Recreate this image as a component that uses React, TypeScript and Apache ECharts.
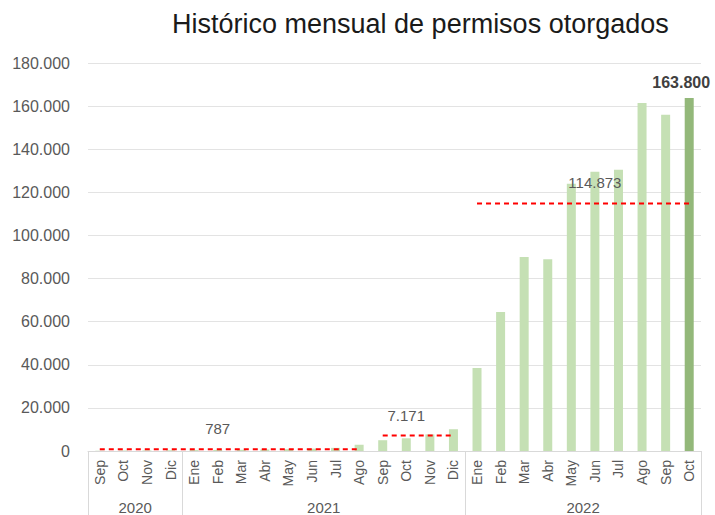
import React, { useEffect, useRef } from "react";
import * as echarts from "echarts";

const years = ["2020", "2021", "2022"];
const months2020 = ["Sep", "Oct", "Nov", "Dic"];
const months2021 = ["Ene", "Feb", "Mar", "Abr", "May", "Jun", "Jul", "Ago", "Sep", "Oct", "Nov", "Dic"];
const months2022 = ["Ene", "Feb", "Mar", "Abr", "May", "Jun", "Jul", "Ago", "Sep", "Oct"];

const values2020 = [120, 210, 260, 330];
const values2021 = [410, 480, 560, 720, 860, 1100, 1450, 2900, 5000, 5900, 7700, 10100];
const values2022 = [38500, 64500, 90000, 89000, 124000, 129500, 130500, 161500, 156000, 163800];

// period averages (red dashed lines)
const avgStarts = [0, 12, 16];
const avgEnds = [11, 15, 25];
const avgValues = [787, 7171, 114873];
const avgLabelAt = [5, 13, 21];

const yTicks = [0, 20000, 40000, 60000, 80000, 100000, 120000, 140000, 160000, 180000];

const fmt = (v: number) => String(Math.round(v)).replace(/\B(?=(\d{3})+(?!\d))/g, ".");

const FONT = "Liberation Sans, Arial, sans-serif";

export default function App() {
  const ref = useRef<HTMLDivElement>(null);
  useEffect(() => {
    if (!ref.current) return;
    const chart = echarts.init(ref.current, null, { renderer: "svg" });
    const monthGroups = [months2020, months2021, months2022];
    const categories: string[] = [];
    monthGroups.forEach((ms, gi) => ms.forEach((m) => categories.push(m + "|" + years[gi])));
    const values = [...values2020, ...values2021, ...values2022];
    const n = values.length;

    const bounds: number[] = [-0.5];
    const centers: number[] = [];
    let acc = 0;
    monthGroups.forEach((ms) => {
      centers.push(acc + (ms.length - 1) / 2);
      acc += ms.length;
      bounds.push(acc - 0.5);
    });

    const barData = values.map((v, i) =>
      i === n - 1
        ? {
            value: v,
            itemStyle: { color: "#93b87a" },
            label: {
              show: true,
              position: "top",
              distance: 7,
              offset: [-8, 0],
              formatter: (p: any) => fmt(p.value),
              fontSize: 16,
              fontWeight: "bold",
              color: "#404040",
              fontFamily: FONT,
            },
          }
        : v
    );

    const avgSeries = avgValues.map((av, k) => ({
      type: "line",
      xAxisIndex: 0,
      yAxisIndex: 0,
      symbol: "circle",
      symbolSize: 0,
      showSymbol: true,
      silent: true,
      lineStyle: { color: "#ff0000", width: 2, type: [5, 4] },
      itemStyle: { color: "#ff0000" },
      z: 5,
      data: values.map((_, i) => {
        if (i < avgStarts[k] || i > avgEnds[k]) return null;
        if (i === avgLabelAt[k])
          return {
            value: av,
            label: {
              show: true,
              position: "top",
              distance: 13,
              formatter: () => fmt(av),
              fontSize: 15,
              color: "#595959",
              fontFamily: FONT,
            },
          };
        return av;
      }),
    }));

    chart.setOption({
      animation: false,
      textStyle: { fontFamily: FONT },
      title: {
        text: "Histórico mensual de permisos otorgados",
        left: 172,
        top: 10,
        padding: 0,
        textStyle: { fontSize: 27, fontWeight: "normal", color: "#1a1a1a", fontFamily: FONT },
      },
      grid: { left: 88, right: 14, top: 63, bottom: 64, containLabel: false },
      xAxis: [
        {
          type: "category",
          data: categories,
          boundaryGap: true,
          axisLine: { show: true, lineStyle: { color: "#d9d9d9" } },
          axisTick: { show: false },
          axisLabel: {
            interval: 0,
            rotate: 90,
            margin: 9,
            fontSize: 14,
            color: "#595959",
            formatter: (v: string) => v.split("|")[0],
          },
        },
        {
          type: "value",
          position: "bottom",
          min: -0.5,
          max: n - 0.5,
          axisLine: { show: false },
          splitLine: { show: false },
          axisTick: { show: true, customValues: bounds, length: 64, lineStyle: { color: "#d9d9d9" } },
          axisLabel: {
            show: true,
            customValues: centers,
            margin: 49,
            fontSize: 15,
            color: "#595959",
            formatter: (v: number) => {
              const idx = centers.findIndex((c) => Math.abs(c - v) < 0.01);
              return idx >= 0 ? years[idx] : "";
            },
          },
        },
      ],
      yAxis: {
        type: "value",
        min: 0,
        max: 180000,
        interval: 20000,
        axisLine: { show: false },
        axisTick: { show: false },
        splitLine: { show: true, lineStyle: { color: "#e3e3e3" } },
        axisLabel: {
          margin: 18,
          fontSize: 16,
          color: "#595959",
          formatter: (v: number) => (yTicks.includes(v) ? fmt(v) : ""),
        },
      },
      series: [
        {
          type: "bar",
          xAxisIndex: 0,
          yAxisIndex: 0,
          barWidth: 9,
          itemStyle: { color: "#c5e0b4" },
          data: barData,
          z: 2,
        },
        ...avgSeries,
      ],
    });
    return () => chart.dispose();
  }, []);
  return <div ref={ref} style={{ position: "fixed", left: 0, top: 0, width: 715, height: 515, background: "#fff" }} />;
}
